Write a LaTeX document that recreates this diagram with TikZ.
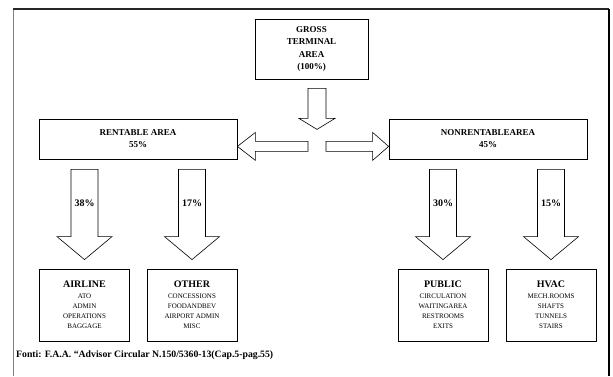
\documentclass[tikz,border=0pt]{standalone}
\usepackage{fontspec}
\setmainfont{Liberation Serif}
\usetikzlibrary{calc}

% block arrow pointing down: top coordinate, tip coordinate, shaft half width, head half width, head length
\newcommand\arrowdown[5]{\draw[blockarrow] let \p1=(#1),\p2=(#2) in
  (\x2-#3pt,\y1) -- (\x2+#3pt,\y1) -- (\x2+#3pt,\y2+#5pt) -- (\x2+#4pt,\y2+#5pt)
  -- (\p2) -- (\x2-#4pt,\y2+#5pt) -- (\x2-#3pt,\y2+#5pt) -- cycle;}
% block arrow pointing left
\newcommand\arrowleft[5]{\draw[blockarrow] let \p1=(#1),\p2=(#2) in
  (\x1,\y2-#3pt) -- (\x1,\y2+#3pt) -- (\x2+#5pt,\y2+#3pt) -- (\x2+#5pt,\y2+#4pt)
  -- (\p2) -- (\x2+#5pt,\y2-#4pt) -- (\x2+#5pt,\y2-#3pt) -- cycle;}
% block arrow pointing right
\newcommand\arrowright[5]{\draw[blockarrow] let \p1=(#1),\p2=(#2) in
  (\x1,\y2-#3pt) -- (\x1,\y2+#3pt) -- (\x2-#5pt,\y2+#3pt) -- (\x2-#5pt,\y2+#4pt)
  -- (\p2) -- (\x2-#5pt,\y2-#4pt) -- (\x2-#5pt,\y2-#3pt) -- cycle;}
\newcommand\boxhead[1]{{\fontsize{10}{10}\selectfont\bfseries #1}}

\begin{document}
\begin{tikzpicture}[x=1pt,y=-1pt,
  box/.style={draw,line width=0.8pt,inner sep=0pt,align=center},
  mainbox/.style={box,minimum width=198pt,minimum height=40pt,
    font=\fontsize{9}{12}\selectfont\bfseries},
  lowbox/.style={box,minimum width=90pt,minimum height=72pt,
    font=\fontsize{7}{10.2}\selectfont},
  blockarrow/.style={draw,line width=0.6pt,fill=white,line join=miter},
  pct/.style={font=\fontsize{10}{10}\selectfont\bfseries,inner sep=0pt}]
\useasboundingbox (0,0) rectangle (613,376);

% page frame
\draw[gray,line width=1pt] (13,9) -- (13,376);
\draw[line width=1.1pt,black!85] (13,9) -- (609,9);
\draw[line width=1.8pt] (609,9) -- (609,376);

% boxes
\node[box,minimum width=113pt,minimum height=60pt,
  font=\fontsize{9}{12.5}\selectfont\bfseries] (gross) at (311.5,49)
  {GROSS\\TERMINAL\\AREA\\(100\%)};
\node[mainbox] (rent) at (138,139) {RENTABLE AREA\\55\%};
\node[mainbox] (nonrent) at (488,139) {NONRENTABLEAREA\\45\%};

\node[lowbox] (airline) at (84.5,305) {\boxhead{AIRLINE}\\ATO\\ADMIN\\OPERATIONS\\BAGGAGE};
\node[lowbox] (other) at (192,305) {\boxhead{OTHER}\\CONCESSIONS\\FOODANDBEV\\AIRPORT ADMIN\\MISC};
\node[lowbox] (public) at (443,305) {\boxhead{PUBLIC}\\CIRCULATION\\WAITINGAREA\\RESTROOMS\\EXITS};
\node[lowbox] (hvac) at (551,305) {\boxhead{HVAC}\\MECH.ROOMS\\SHAFTS\\TUNNELS\\STAIRS};

% split arrows below the gross area
\coordinate (hubtop) at ($(gross.south)+(5.5,9)$);
\coordinate (hubtip) at ($(gross.south)+(5.5,50)$);
\coordinate (ltail) at ($(hubtop)+(-9,58)$);
\coordinate (rtail) at ($(hubtop)+(9,58)$);
\coordinate (ltip) at (rent.east |- ltail);
\coordinate (rtip) at (nonrent.west |- rtail);
\arrowdown{hubtop}{hubtip}{9}{18}{11}
\arrowleft{ltail}{ltip}{5}{14}{18}
\arrowright{rtail}{rtip}{5}{14}{16}

% share arrows
\foreach \b/\up/\p in {airline/rent/38, other/rent/17, public/nonrent/30, hvac/nonrent/15}{
  \coordinate (\b top) at ($(\b.north |- \up.south)+(0,10)$);
  \coordinate (\b tip) at ($(\b.north)+(0,-9)$);
  \arrowdown{\b top}{\b tip}{13.5}{27.5}{23}
  \node[pct] (\b pct) at ($(\b top)+(0,34)$) {\p\%};
}

% source line
\node[anchor=west,inner sep=0pt,font=\fontsize{9.75}{10}\selectfont\bfseries] (source)
  at (16,355) {Fonti: F.A.A. “Advisor Circular N.150/5360-13(Cap.5-pag.55)};
\end{tikzpicture}
\end{document}
